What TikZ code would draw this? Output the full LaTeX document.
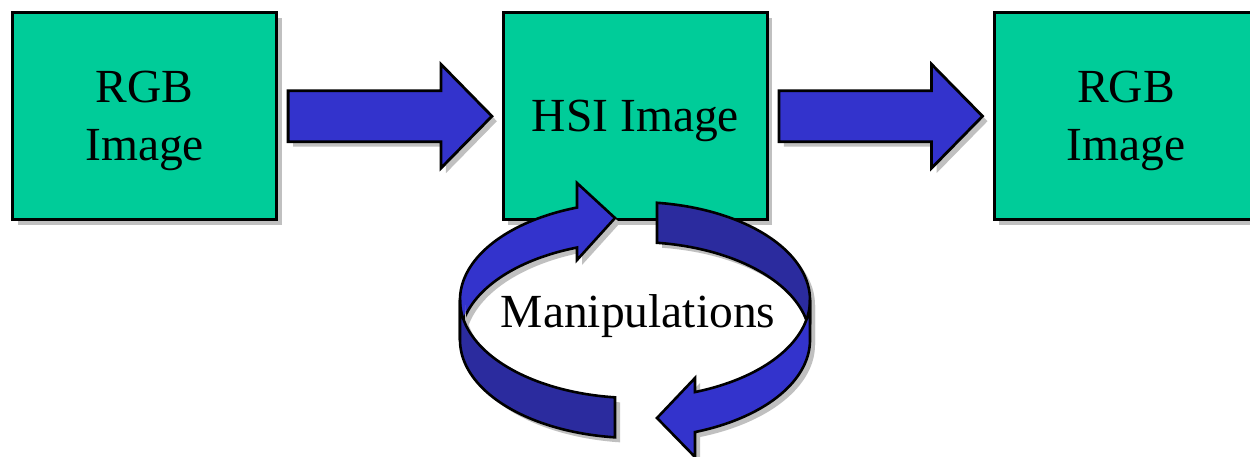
\documentclass[tikz,border=0pt]{standalone}
\usepackage{fontspec}
\setmainfont{Liberation Serif}
\usetikzlibrary{shadows,calc}
\definecolor{boxgreen}{HTML}{00CC99}
\definecolor{arrowblue}{HTML}{3333CC}
\definecolor{darkblue}{HTML}{2B2B9E}
\definecolor{shadowgray}{HTML}{C0C0C0}
\tikzset{
  myshadow/.style={drop shadow={shadow xshift=5pt,shadow yshift=-5pt,fill=shadowgray,opacity=1}},
  imgbox/.style={draw=black,line width=3pt,fill=boxgreen,minimum width=264pt,minimum height=207pt,
    inner sep=0pt,align=center,font=\fontsize{47.5}{58}\selectfont,text depth=0pt,myshadow},
  blockarrow/.style={draw=black,line width=2.8pt,fill=arrowblue,myshadow,line join=miter},
  ringlight/.style={draw=black,line width=2.6pt,fill=arrowblue,myshadow},
  ringdark/.style={draw=black,line width=2.6pt,fill=darkblue,myshadow},
  bigtext/.style={font=\fontsize{47.5}{58}\selectfont,inner sep=0pt},
}
\begin{document}
\begin{tikzpicture}[x=1pt,y=-1pt]
\useasboundingbox (0,0) rectangle (1250,457);
\clip (0,0) rectangle (1250,457);

% boxes
\node[imgbox] (rgbin) at (144.6,116.2) {RGB\\Image};
\node[imgbox] (hsi) at (635.4,116.2) {HSI Image};
\node[imgbox] (rgbout) at (1126,116.2) {RGB\\Image};

% block arrows
\coordinate (a1s) at ($(rgbin.east)+(10,0)$);
\coordinate (a1t) at ($(hsi.west)+(-10,0)$);
\coordinate (a2s) at ($(hsi.east)+(10,0)$);
\coordinate (a2t) at ($(rgbout.west)+(-10,0)$);
\draw[blockarrow] ($(a1s)+(0,-25.5)$) -- ($(a1t)+(-51,-25.5)$) -- ($(a1t)+(-51,-52)$) -- (a1t)
  -- ($(a1t)+(-51,52)$) -- ($(a1t)+(-51,25.5)$) -- ($(a1s)+(0,25.5)$) -- cycle;
\draw[blockarrow] ($(a2s)+(0,-25.5)$) -- ($(a2t)+(-51,-25.5)$) -- ($(a2t)+(-51,-52)$) -- (a2t)
  -- ($(a2t)+(-51,52)$) -- ($(a2t)+(-51,25.5)$) -- ($(a2s)+(0,25.5)$) -- cycle;

% cyclic ring arrow: back half
\draw[ringlight] plot[domain=-180:-109.35,samples=60] ({635+175*cos(\x)},{300+98*sin(\x)})
  -- (577,183) -- (615,218) -- (577,260)
  -- plot[domain=-109.35:-180,samples=60] ({635+175*cos(\x)},{340+98*sin(\x)}) -- cycle;
\draw[ringdark] plot[domain=-82.78:0,samples=60] ({635+175*cos(\x)},{300+98*sin(\x)})
  -- plot[domain=0:-82.78,samples=60] ({635+175*cos(\x)},{340+98*sin(\x)}) -- cycle;
% front half
\draw[ringdark] plot[domain=180:96.56,samples=60] ({635+175*cos(\x)},{300+98*sin(\x)})
  -- plot[domain=96.56:180,samples=60] ({635+175*cos(\x)},{340+98*sin(\x)}) -- cycle;
\draw[ringlight] plot[domain=0:69.95,samples=60] ({635+175*cos(\x)},{300+98*sin(\x)})
  -- (695,378) -- (657,418) -- (695,457)
  -- plot[domain=69.95:0,samples=60] ({635+175*cos(\x)},{340+98*sin(\x)}) -- cycle;

\node[bigtext,anchor=base] (manip) at (638,327.3) {Manipulations};
\end{tikzpicture}
\end{document}
